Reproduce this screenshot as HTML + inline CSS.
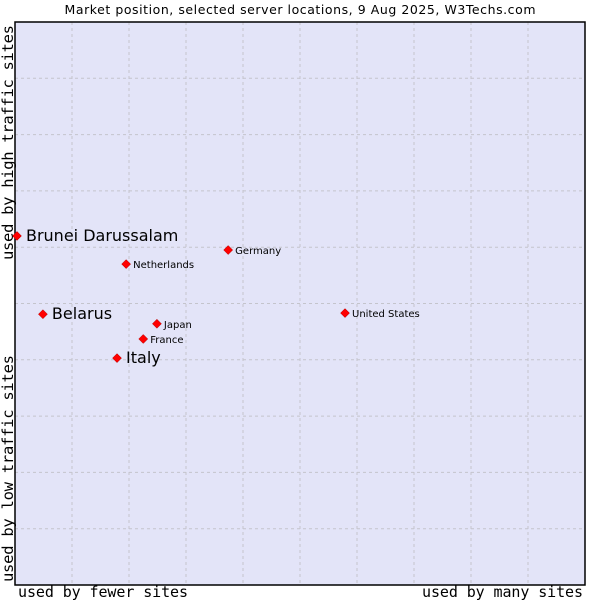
<!DOCTYPE html>
<html><head><meta charset="utf-8"><style>
body{margin:0;background:#fff;width:600px;height:600px;overflow:hidden}
text{font-family:"DejaVu Sans","Liberation Sans",sans-serif}
.mono{font-family:"DejaVu Sans Mono","Liberation Mono",monospace}
</style></head><body>
<svg id="chart" width="600" height="600">
<text x="300" y="14" text-anchor="middle" font-size="12.5" textLength="471">Market position, selected server locations, 9 Aug 2025, W3Techs.com</text>
<rect x="15" y="22" width="570" height="563" fill="#e3e4f8"/>
<g id="grid"></g>
<path d="M15 22H585V585H15Z" fill="none" stroke="#000" stroke-width="1.5"/>
<text class="mono" x="18" y="597" font-size="15" textLength="170">used by fewer sites</text>
<text class="mono" x="583" y="597" font-size="15" text-anchor="end" textLength="161">used by many sites</text>
<text class="mono" transform="translate(13,582) rotate(-90)" font-size="15.5" textLength="227">used by low traffic sites</text>
<text class="mono" transform="translate(13,260) rotate(-90)" font-size="15.5" textLength="235">used by high traffic sites</text>
<g id="points"></g>
</svg>
<script>
const countries=["Brunei Darussalam","Belarus","Italy","Netherlands","Germany","Japan","France","United States"];
const xValues=[0.35,4.9,17.9,19.5,37.4,24.9,22.5,57.9];
const yValues=[62.0,48.1,40.3,57.0,59.5,46.4,43.7,48.3];
const highlighted=[true,true,true,false,false,false,false,false];
const NS="http://www.w3.org/2000/svg";
const X=v=>15+5.7*v, Y=v=>585-5.63*v;
const grid=document.getElementById('grid');
for(let i=1;i<10;i++){
  const lv=document.createElementNS(NS,'line');
  
  
  lv.setAttribute('x1',X(i*10));lv.setAttribute('x2',X(i*10));lv.setAttribute('y1',22);lv.setAttribute('y2',585);
  lv.setAttribute('stroke','#c4c4cc');lv.setAttribute('stroke-dasharray','3,3');
  grid.appendChild(lv);
  const lh=document.createElementNS(NS,'line');
  
  
  lh.setAttribute('y1',Y(i*10));lh.setAttribute('y2',Y(i*10));lh.setAttribute('x1',15);lh.setAttribute('x2',585);
  lh.setAttribute('stroke','#c4c4cc');lh.setAttribute('stroke-dasharray','3,3');
  grid.appendChild(lh);
}
const pts=document.getElementById('points');
countries.forEach((c,i)=>{
  const x=X(xValues[i]),y=Y(yValues[i]);
  const d=document.createElementNS(NS,'path');
  
  
  d.setAttribute('d',`M${x} ${y-4.5}L${x+4.5} ${y}L${x} ${y+4.5}L${x-4.5} ${y}Z`);
  d.setAttribute('fill','#f00');d.setAttribute('stroke','#a00');d.setAttribute('stroke-width','0.5');
  pts.appendChild(d);
  const t=document.createElementNS(NS,'text');
  
  
  const big=highlighted[i];
  t.setAttribute('x',x+(big?9:7));t.setAttribute('y',y+(big?5:4));
  t.setAttribute('font-size',big?16:10);
  t.textContent=c;
  pts.appendChild(t);
});
</script>
</body></html>
